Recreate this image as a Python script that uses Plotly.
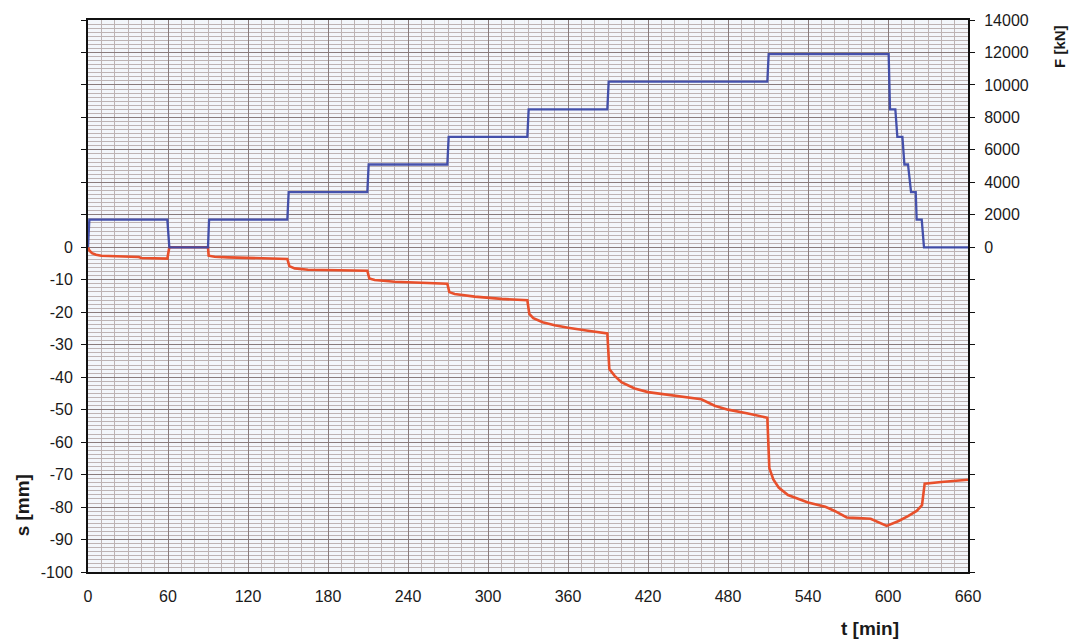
import plotly.graph_objects as go

# ---- data ----
t_F = [0, 1, 59.5, 61, 90, 90.8, 149.5, 150.5, 209.5, 210.5, 269.5, 270.5, 329.5, 330.5,
       389.5, 390.5, 509.5, 510.5, 600.5, 601.5, 605.5, 607, 610.8, 612.3, 615, 617.3,
       620.8, 621.5, 625.3, 627, 660]
F_kN = [0, 1700, 1700, 0, 0, 1700, 1700, 3400, 3400, 5100, 5100, 6800, 6800, 8500,
        8500, 10200, 10200, 11900, 11900, 8500, 8500, 6800, 6800, 5100, 5100, 3400,
        3400, 1700, 1700, 0, 0]

t_s = [0, 1, 3, 6, 10, 20, 30, 38, 40, 50, 59.5, 61, 90, 90.5, 95, 105, 120, 140, 149.5,
       151, 155, 165, 180, 200, 209.5, 211, 215, 230, 250, 269.5, 271, 275, 290, 310,
       329.5, 331, 334, 341, 350, 360, 375, 389.5, 391, 395, 400, 410, 420, 440, 460,
       470, 480, 495, 509.5, 511, 514, 518, 525, 540, 553, 560, 569, 578, 587, 599,
       608, 615, 621.5, 625.5, 627.5, 640, 660]
s_mm = [0, -1.0, -1.8, -2.3, -2.6, -2.8, -2.9, -3.0, -3.3, -3.4, -3.5, 0, 0, -2.6, -2.9,
        -3.1, -3.3, -3.5, -3.6, -5.8, -6.5, -6.9, -7.0, -7.1, -7.2, -9.6, -10.1, -10.6,
        -11.0, -11.2, -13.8, -14.4, -15.2, -15.9, -16.3, -20.5, -21.8, -23.1, -24.0,
        -24.8, -25.7, -26.5, -37.5, -39.6, -41.5, -43.5, -44.6, -45.8, -46.8, -48.8,
        -50.0, -51.2, -52.5, -68.0, -71.5, -74.0, -76.3, -78.6, -79.9, -81.2, -83.2,
        -83.4, -83.6, -85.8, -84.3, -82.8, -81.2, -79.4, -72.8, -72.3, -71.6]

x_ticks = list(range(0, 661, 60))
s_ticks = list(range(-100, 71, 10))
F_ticks = list(range(-20000, 14001, 2000))

s_text = [str(v) if v <= 0 else "" for v in s_ticks]
F_text = [str(v) if v >= 0 else "" for v in F_ticks]

FONT = "Liberation Sans, Arial, sans-serif"
BLUE = "#3c49a8"
RED = "#e8502c"
MINOR = "#bdb3b4"
MAJOR = "#8a7c7d"

fig = go.Figure()
fig.add_trace(go.Scatter(x=t_s, y=s_mm, mode="lines", line=dict(color=RED, width=2.6),
                         xaxis="x", yaxis="y", showlegend=False))
fig.add_trace(go.Scatter(x=t_F, y=F_kN, mode="lines", line=dict(color=BLUE, width=2.3),
                         xaxis="x", yaxis="y2", showlegend=False, opacity=0.95))

fig.update_layout(
    width=1069, height=639,
    margin=dict(l=88, r=101, t=17, b=67),
    paper_bgcolor="white",
    plot_bgcolor="#f3f6fb",
    font=dict(family=FONT, size=16, color="#1a1a1a"),
    xaxis=dict(
        range=[0, 660], tickmode="array", tickvals=x_ticks,
        showgrid=True, gridcolor=MAJOR, gridwidth=1.4,
        minor=dict(dtick=10, tick0=0, showgrid=True, gridcolor=MINOR, gridwidth=1),
        showline=True, linecolor="#111", linewidth=2, mirror=True,
        ticks="", ticklabelstandoff=9, zeroline=False,
    ),
    xaxis2=dict(
        range=[0, 660], overlaying="x", anchor="free", position=100 / 170,
        tickmode="array", tickvals=x_ticks, ticks="outside", ticklen=5,
        tickwidth=2, tickcolor="#111",
        showticklabels=False, showgrid=False, showline=True, linecolor="#111",
        linewidth=2, zeroline=False, layer="below traces",
    ),
    yaxis=dict(
        range=[-100, 70], tickmode="array", tickvals=s_ticks, ticktext=s_text,
        showgrid=True, gridcolor=MAJOR, gridwidth=1.4,
        minor=dict(dtick=1.25, tick0=0, showgrid=True, gridcolor=MINOR, gridwidth=1),
        showline=True, linecolor="#111", linewidth=2,
        ticks="outside", ticklen=5, tickcolor="#111", tickwidth=1,
        ticklabelstandoff=5, zeroline=False,
    ),
    yaxis2=dict(
        range=[-20000, 14000], overlaying="y", side="right", anchor="x",
        tickmode="array", tickvals=F_ticks, ticktext=F_text,
        showgrid=False, showline=True, linecolor="#111", linewidth=2,
        ticks="outside", ticklen=5, tickcolor="#111", tickwidth=1,
        ticklabelstandoff=6, zeroline=False,
    ),
    annotations=[
        dict(text="<b>s [mm]</b>", xref="paper", yref="paper", x=-0.075, y=0.1207,
             textangle=-90, showarrow=False, font=dict(size=19, family=FONT),
             xanchor="center", yanchor="middle"),
        dict(text="<b>F [kN]</b>", xref="paper", yref="paper", x=1.1045, y=0.953,
             textangle=-90, showarrow=False, font=dict(size=15, family=FONT),
             xanchor="center", yanchor="middle"),
        dict(text="<b>t [min]</b>", xref="paper", yref="paper", x=0.8886, y=-0.1027,
             showarrow=False, font=dict(size=19, family=FONT),
             xanchor="center", yanchor="middle"),
    ],
)

# remove the page's default body margin so the figure sits at the window's top-left
fig.write_html("out.html",
               config={"displayModeBar": False},
               post_script="document.body.style.margin='0';"
                           "document.body.style.overflow='hidden';")
